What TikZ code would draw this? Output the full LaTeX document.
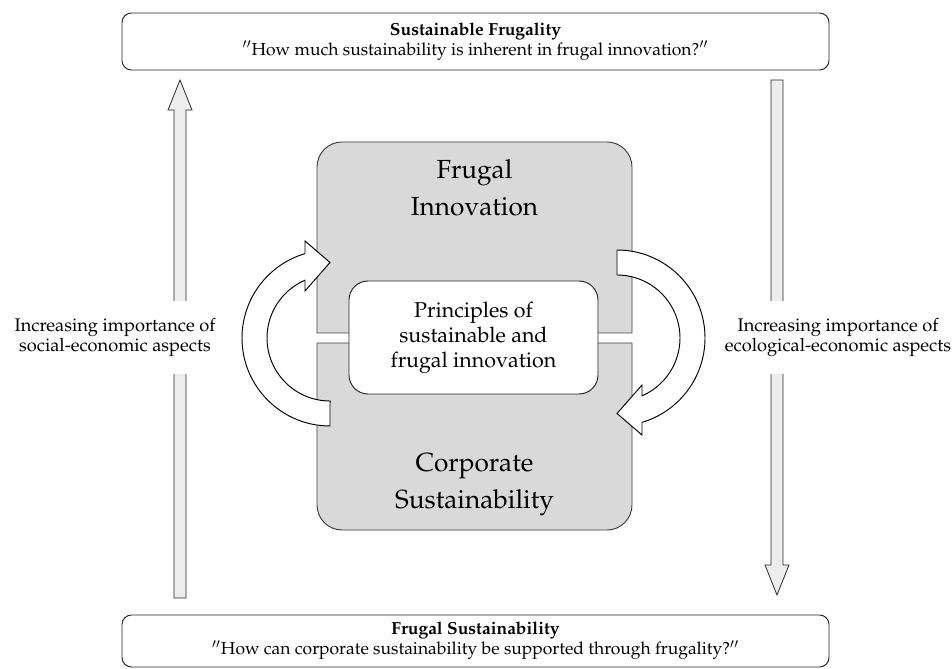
\documentclass[tikz,border=0pt]{standalone}
\usepackage[T1]{fontenc}
\usepackage{mathpazo}
\usepackage{tikz}
\usetikzlibrary{calc}

\def\u{0.63pt}
\def\dq{\ensuremath{''}}

\tikzset{
	framebox/.style={draw=black!85, line width=0.6pt, rounded corners=6pt,
		minimum width=707*\u, align=center, inner sep=0pt,
		font=\fontsize{11}{12.6}\selectfont},
	corebox/.style={draw=black!75, line width=0.6pt, fill=black!15},
	bigtext/.style={align=center, font=\fontsize{16.5}{23.3}\selectfont},
	innerbox/.style={draw=black!85, line width=0.6pt, fill=white, rounded corners=12pt,
		minimum width=249*\u, minimum height=113*\u, align=center,
		font=\fontsize{13.5}{15.75}\selectfont},
	sidelabel/.style={fill=white, align=center, inner xsep=1pt, inner ysep=17*\u,
		font=\fontsize{11.5}{12.6}\selectfont},
	uparrow/.style={draw=black!85, line width=0.5pt, fill=black!7},
	bendarrow/.style={draw=black, line width=0.6pt, fill=white}
}

\begin{document}
\begin{tikzpicture}[x=\u, y=\u]
	\useasboundingbox (0,0) rectangle (952,668);

	% guiding questions
	\node[framebox, minimum height=57*\u] (susfrugal) at (475.5,626.5)
		{\textbf{Sustainable Frugality}\\\dq How much sustainability is inherent in frugal innovation?\dq};
	\node[framebox, minimum height=52*\u] (frugsus) at (475.5,27)
		{\textbf{Frugal Sustainability}\\\dq How can corporate sustainability be supported through frugality?\dq};

	% side arrows
	\draw[uparrow] (174,70) -- (174,558) -- (168,558) -- (180,588)
		-- (192,558) -- (186,558) -- (186,70) -- cycle;
	\draw[uparrow] (771,588) -- (771,103) -- (765,103) -- (777,73)
		-- (789,103) -- (783,103) -- (783,588) -- cycle;

	\node[sidelabel] (social) at (115,330.5)
		{Increasing importance of\\social-economic aspects};
	\node[sidelabel] (ecolog) at (838,330.5)
		{Increasing importance of\\ecological-economic aspects};

	% the two halves
	\draw[corebox] (317,335) -- (317,501) arc[start angle=180, end angle=90, radius=25]
		-- (607,526) arc[start angle=90, end angle=0, radius=25] -- (632,335) -- cycle;
	\draw[corebox] (317,325) -- (317,163) arc[start angle=180, end angle=270, radius=25]
		-- (607,138) arc[start angle=270, end angle=360, radius=25] -- (632,325) -- cycle;

	\node[bigtext] (frugal) at (474.5,480.5) {Frugal\\Innovation};
	\node[bigtext] (corpsus) at (474.5,183) {Corporate\\Sustainability};

	\node[innerbox] (principles) at (473.5,330.5)
		{Principles of\\sustainable and\\frugal innovation};

	% circular arrows
	\coordinate (lc) at (330,330);
	\coordinate (rc) at (617,330);

	\draw[bendarrow] ($(lc)+(0,-88)$) arc[start angle=270, end angle=106.5, radius=88]
		-- ($(lc)+(-25,97)$) -- ($(lc)+(0,75.5)$) -- ($(lc)+(-25,47)$)
		-- ($(lc)+(-25,57.8)$) arc[start angle=113.4, end angle=270, radius=63] -- cycle;
	\draw[bendarrow] ($(rc)+(0,88)$) arc[start angle=90, end angle=-73.5, radius=88]
		-- ($(rc)+(25,-97)$) -- ($(rc)+(0,-75.5)$) -- ($(rc)+(25,-47)$)
		-- ($(rc)+(25,-57.8)$) arc[start angle=-66.6, end angle=90, radius=63] -- cycle;
\end{tikzpicture}
\end{document}
